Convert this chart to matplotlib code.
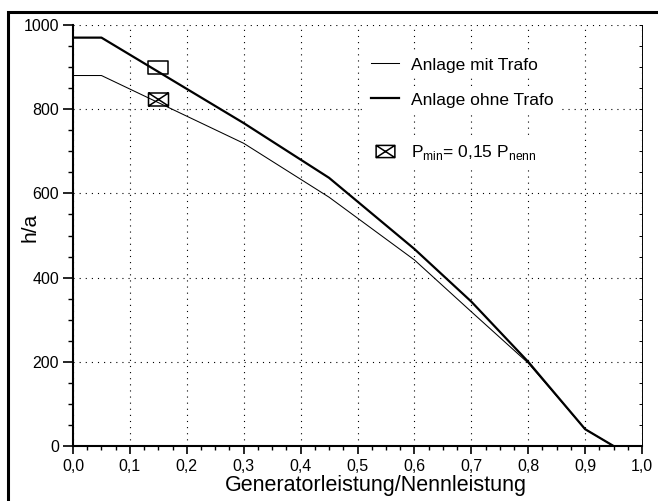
""" Volllaststunden ueber Generatorleistung """
import matplotlib
matplotlib.use('Agg')
import matplotlib.pyplot as plt
from matplotlib.lines import Line2D
from matplotlib.path import Path
from matplotlib.ticker import MultipleLocator

plt.rcParams['font.family'] = 'Liberation Sans'
plt.rcParams['mathtext.fontset'] = 'custom'
plt.rcParams['mathtext.rm'] = 'Liberation Sans'

# Generatorleistung/Nennleistung und h/a fuer beide Anlagen
leistung = [0.0, 0.05, 0.3, 0.45, 0.6, 0.7, 0.8, 0.9, 0.95]
mit_trafo = [880, 880, 719, 591, 442, 319, 197, 40, 0]
ohne_trafo = [970, 970, 767, 637, 468, 343, 200, 40, 0]

# Betriebspunkt P_min = 0,15 P_nenn
p_min = [0.15]
p_min_ohne = [900]
p_min_mit = [825]

x_ticks = [0.0, 0.1, 0.2, 0.3, 0.4, 0.5, 0.6, 0.7, 0.8, 0.9, 1.0]
x_labels = ['0,0', '0,1', '0,2', '0,3', '0,4', '0,5', '0,6', '0,7', '0,8',
            '0,9', '1,0']
y_ticks = [0, 200, 400, 600, 800, 1000]

# Rechteck-Marker, einmal leer und einmal mit Kreuz
box = Path([(-1, -0.65), (1, -0.65), (1, 0.65), (-1, 0.65), (-1, -0.65)],
           [Path.MOVETO, Path.LINETO, Path.LINETO, Path.LINETO, Path.CLOSEPOLY])
box_x = Path([(-1, -0.65), (1, -0.65), (1, 0.65), (-1, 0.65), (-1, -0.65),
              (-1, -0.65), (1, 0.65), (-1, 0.65), (1, -0.65)],
             [Path.MOVETO, Path.LINETO, Path.LINETO, Path.LINETO,
              Path.CLOSEPOLY, Path.MOVETO, Path.LINETO, Path.MOVETO,
              Path.LINETO])

fig = plt.figure(figsize=(6.58, 5.01), dpi=100)
ax = fig.add_axes([73 / 658, 55 / 501, 569 / 658, 421 / 501])

ax.plot(leistung, mit_trafo, color='k', lw=0.75)
ax.plot(leistung, ohne_trafo, color='k', lw=1.6)
ax.plot(p_min, p_min_ohne, ls='none', marker=box, ms=14.4, mfc='none',
        mec='k', mew=1.1)
ax.plot(p_min, p_min_mit, ls='none', marker=box_x, ms=14.4, mfc='none',
        mec='k', mew=1.1)

ax.set_xlim(0, 1)
ax.set_ylim(0, 1000)
ax.set_xticks(x_ticks, x_labels)
ax.set_yticks(y_ticks)
ax.xaxis.set_minor_locator(MultipleLocator(0.025))
ax.yaxis.set_minor_locator(MultipleLocator(50))
ax.tick_params(axis='x', which='major', length=5.8, width=1.2, pad=3.5,
               labelsize=11.5)
ax.tick_params(axis='x', which='minor', length=3, width=1)
ax.tick_params(axis='y', which='major', length=7, width=1.2, pad=3,
               labelsize=11.5)
ax.tick_params(axis='y', which='minor', length=3.5, width=1)
ax.grid(True, which='major', ls=(0, (1, 4.5)), lw=0.8, color='k')

ax.spines['top'].set_visible(False)
ax.spines['right'].set_linewidth(0.7)
ax.spines['left'].set_linewidth(1.5)
ax.spines['bottom'].set_linewidth(1.5)

# kleine Striche nach innen an der rechten Achse
ax2 = ax.twinx()
ax2.set_ylim(0, 1000)
ax2.yaxis.set_major_locator(MultipleLocator(50))
ax2.tick_params(direction='in', length=2.5, width=0.7, labelright=False)
for s in ax2.spines.values():
    s.set_visible(False)

ax.set_xlabel('Generatorleistung/Nennleistung', fontsize=15.5, va='baseline')
ax.xaxis.set_label_coords(0.533, -0.107)
ax.set_ylabel('h/a', fontsize=15, va='center')
ax.yaxis.set_label_coords(-0.0756, 0.52)

# Legende zeilenweise, jede Zeile mit weissem Hintergrund
leg_opts = dict(loc='center left', frameon=True, facecolor='white',
                edgecolor='none', framealpha=1, fancybox=False,
                borderaxespad=0, borderpad=0.3, handlelength=1.6,
                handletextpad=0.7, fontsize=12.5)
h1 = Line2D([], [], color='k', lw=0.75)
h2 = Line2D([], [], color='k', lw=1.6)
h3 = Line2D([], [], ls='none', marker=box_x, ms=13.5, mfc='none', mec='k',
            mew=1.1)
leg1 = ax.legend([h1], ['Anlage mit Trafo'], bbox_to_anchor=(0.515, 0.905),
                 **leg_opts)
ax.add_artist(leg1)
leg2 = ax.legend([h2], ['Anlage ohne Trafo'], bbox_to_anchor=(0.515, 0.822),
                 **leg_opts)
ax.add_artist(leg2)
ax.legend([h3], [r'P$_{\rm min}$= 0,15 P$_{\rm nenn}$'],
          bbox_to_anchor=(0.515, 0.698), **leg_opts)

# Rahmen oben und links
fig.add_artist(Line2D([8 / 658, 8 / 658, 1.0], [0.0, 1 - 12 / 501, 1 - 12 / 501],
                      transform=fig.transFigure, color='k', lw=2.2,
                      solid_joinstyle='miter'))

fig.savefig('out.png', dpi=100)
